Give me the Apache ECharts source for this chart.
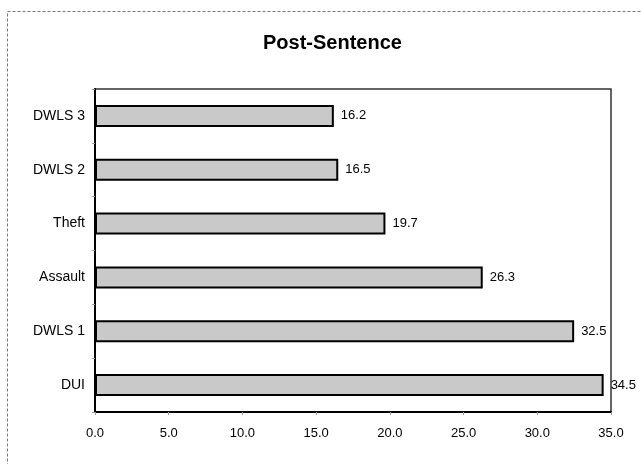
<!DOCTYPE html>
<html>
<head>
<meta charset="utf-8">
<script src="https://cdn.jsdelivr.net/npm/echarts@6/dist/echarts.min.js"></script>
<style>
  html, body { margin: 0; padding: 0; background: #fff; }
  #chart { width: 641px; height: 464px; }
</style>
</head>
<body>
<div id="chart"></div>
<script>
// Offence categories, bottom to top
const categories = ['DUI', 'DWLS 1', 'Assault', 'Theft', 'DWLS 2', 'DWLS 3'];
// Post-sentence values per category
const values = [34.5, 32.5, 26.3, 19.7, 16.5, 16.2];
// X axis tick values
const xTicks = [0, 5, 10, 15, 20, 25, 30, 35];

const chart = echarts.init(document.getElementById('chart'), null, { renderer: 'canvas' });

chart.setOption({
  backgroundColor: '#ffffff',
  animation: false,
  title: {
    text: 'Post-Sentence',
    left: 258,
    top: 28,
    textStyle: { fontFamily: 'Liberation Sans, Arial', fontWeight: 'bold', fontSize: 20, color: '#000' }
  },
  graphic: [{
    type: 'rect',
    shape: { x: 7.5, y: 11.5, width: 660, height: 480 },
    style: { fill: 'none', stroke: '#777', lineWidth: 1, lineDash: [3, 2] },
    silent: true
  }],
  grid: {
    left: 95, right: 30, top: 89, bottom: 52,
    show: true,
    borderColor: '#333',
    borderWidth: 1.5
  },
  xAxis: {
    type: 'value',
    min: xTicks[0],
    max: xTicks[xTicks.length - 1],
    interval: 5,
    axisLine: { show: true, lineStyle: { color: '#000', width: 2 } },
    axisTick: { show: true, length: 3, lineStyle: { color: '#999' } },
    splitLine: { show: false },
    axisLabel: {
      margin: 15,
      color: '#000',
      fontFamily: 'Liberation Sans, Arial',
      fontSize: 13,
      formatter: v => v.toFixed(1)
    }
  },
  yAxis: {
    type: 'category',
    data: categories,
    axisLine: { show: true, lineStyle: { color: '#000', width: 2 } },
    axisTick: { show: true, length: 3, lineStyle: { color: '#999' } },
    axisLabel: {
      margin: 10,
      color: '#000',
      fontFamily: 'Liberation Sans, Arial',
      fontSize: 14
    }
  },
  series: [{
    type: 'bar',
    data: values,
    barWidth: 22,
    itemStyle: {
      color: '#c9c9c9',
      borderColor: '#000',
      borderWidth: 2
    },
    label: {
      show: true,
      position: 'right',
      distance: 7,
      color: '#000',
      fontFamily: 'Liberation Sans, Arial',
      fontSize: 13,
      formatter: p => p.value.toFixed(1)
    }
  }]
});
</script>
</body>
</html>
